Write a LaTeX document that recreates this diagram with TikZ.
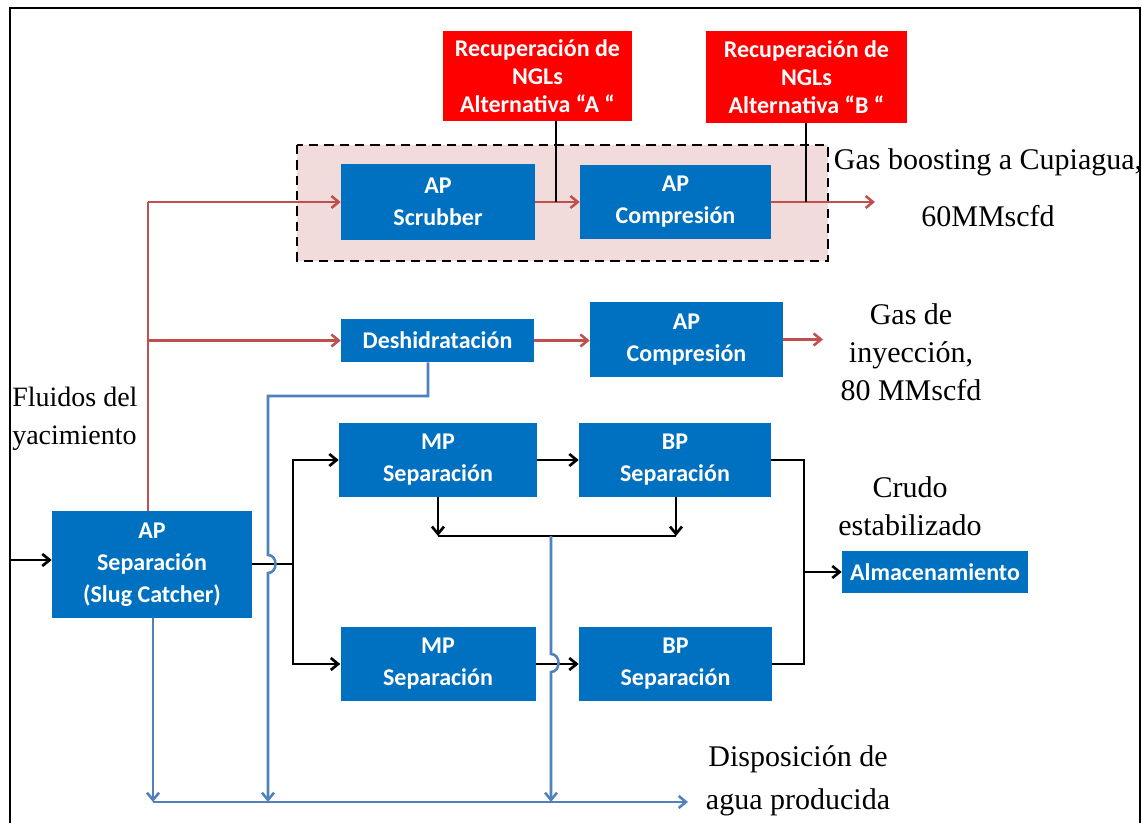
\documentclass[tikz,border=0pt]{standalone}
\usepackage{fontspec}
\setmainfont{Liberation Serif}
\newfontfamily\calib{Carlito}
\usetikzlibrary{arrows.meta}
\definecolor{boxblue}{RGB}{0,112,192}
\definecolor{boxred}{RGB}{255,0,0}
\definecolor{redline}{RGB}{192,80,77}
\definecolor{blueline}{RGB}{79,129,189}
\definecolor{pinkfill}{RGB}{242,220,219}
\begin{document}
\begin{tikzpicture}[x=0.75pt,y=-0.75pt,
  box/.style={fill=boxblue,text=white,font=\calib\bfseries\fontsize{18}{24}\selectfont,align=center,inner sep=0pt},
  rbox/.style={fill=boxred,text=white,font=\calib\bfseries\fontsize{18}{21}\selectfont,align=center,inner sep=0pt},
  lbl/.style={align=center,inner sep=0pt},
  blk/.style={black,line width=2pt},
  rl/.style={redline,line width=1.9pt},
  bl/.style={blueline,line width=1.9pt},
  arr/.style={-{Straight Barb[length=5.5pt,width=9pt]}}
]
\useasboundingbox (0,0) rectangle (1142,823);
\fill[white] (0,0) rectangle (1142,823);
% frame
\draw[line width=1.6pt] (10,823) -- (10,8) -- (1140,8) -- (1140,823);
% dashed group
\draw[dashed,dash pattern=on 7pt off 4.5pt,line width=1.2pt,fill=pinkfill] (297,145) rectangle (828,261);

% boxes
\node[rbox,minimum width=141.75pt,minimum height=67.5pt] (redA) at (537.5,76) {Recuperación de\\NGLs\\Alternativa “A “};
\node[rbox,minimum width=150.75pt,minimum height=69pt] (redB) at (806.5,77) {Recuperación de\\NGLs\\Alternativa “B “};
\node[box,minimum width=145.5pt,minimum height=57pt] (scrub) at (438,202) {AP\\Scrubber};
\node[box,minimum width=143.25pt,minimum height=55.5pt] (compA) at (675.5,202) {AP\\Compresión};
\node[box,minimum width=144.75pt,minimum height=32.25pt] (desh) at (437.5,340.5) {Deshidratación};
\node[box,minimum width=144.75pt,minimum height=56.25pt] (compB) at (686.5,339.5) {AP\\Compresión};
\node[box,minimum width=148.5pt,minimum height=55.5pt] (mp1) at (438,460) {MP\\Separación};
\node[box,minimum width=144pt,minimum height=55.5pt] (bp1) at (675,460) {BP\\Separación};
\node[box,minimum width=146.25pt,minimum height=55.5pt] (mp2) at (438,664) {MP\\Separación};
\node[box,minimum width=144.75pt,minimum height=55.5pt] (bp2) at (675.5,664) {BP\\Separación};
\node[box,minimum width=150pt,minimum height=80.25pt] (slug) at (152,564.5) {AP\\Separación\\(Slug Catcher)};
\node[box,minimum width=139.5pt,minimum height=31.5pt] (alm) at (935,572) {Almacenamiento};

% labels
\node[lbl,anchor=west,align=left,font=\fontsize{21}{28.5}\selectfont] (fluid) at (12,419) {Fluidos del\\yacimiento};
\node[lbl,font=\fontsize{22.5}{42.75}\selectfont] (gb) at (988,188) {Gas boosting a Cupiagua,\\60MMscfd};
\node[lbl,font=\fontsize{22.5}{28.5}\selectfont] (gi) at (911,352) {Gas de\\inyección,\\80 MMscfd};
\node[lbl,font=\fontsize{22.5}{28.5}\selectfont] (crudo) at (910,506) {Crudo\\estabilizado};
\node[lbl,font=\fontsize{22.5}{32.25}\selectfont] (disp) at (798,781) {Disposición de\\agua producida};

% coordinates
\coordinate (in) at (10,560);
\coordinate (rv) at (148,202);
\coordinate (rj) at (148,340.5);
\coordinate (gasout) at (875,202);
\coordinate (injout) at (823,339.5);
\coordinate (ja) at (556,202);
\coordinate (jb) at (806,202);
\coordinate (bj) at (293,564);
\coordinate (lj) at (438,536);
\coordinate (rj2) at (676,536);
\coordinate (cx) at (804,572);
\coordinate (wb) at (153,802);
\coordinate (wend) at (688,802);
\coordinate (dw) at (428,396);
\coordinate (dl) at (268,396);
\coordinate (h1a) at (268,555);
\coordinate (h1b) at (268,573);
\coordinate (d1) at (268,802);
\coordinate (v2) at (551,536);
\coordinate (h2a) at (551,654);
\coordinate (h2b) at (551,672);
\coordinate (d2) at (551,802);

% red gas lines
\draw[rl] (slug.north -| rv) -- (rv);
\draw[rl,arr] (rv) -- (scrub.west);
\draw[rl,arr] (rj) -- (desh.west);
\draw[rl,arr] (scrub.east) -- (compA.west);
\draw[rl,arr] (compA.east) -- (gasout);
\draw[rl,arr] (desh.east) -- (compB.west |- desh.east);
\draw[rl,arr] (compB.east) -- (injout);
% NGL connections
\draw[blk,line width=1.6pt] (redA.south -| ja) -- (ja);
\draw[blk,line width=1.6pt] (redB.south -| jb) -- (jb);

% black liquid lines
\draw[blk,arr] (in) -- (slug.west |- in);
\draw[blk] (slug.east |- bj) -- (bj);
\draw[blk,arr] (bj) |- (mp1.west);
\draw[blk,arr] (bj) |- (mp2.west);
\draw[blk,arr] (mp1.east) -- (bp1.west);
\draw[blk,arr] (mp2.east) -- (bp2.west);
\draw[blk,arr] (mp1.south) -- (lj);
\draw[blk,arr] (bp1.south -| rj2) -- (rj2);
\draw[blk] (lj) -- (rj2);
\draw[blk] (bp1.east) -| (cx) |- (bp2.east);
\draw[blk,arr] (cx) -- (alm.west);

% blue water lines
\draw[bl,arr] (slug.south -| wb) -- (wb);
\draw[bl,arr] (wb) -- (wend);
\draw[bl,arr] (desh.south -| dw) -- (dw) -- (dl) -- (h1a) .. controls +(10,0) and +(10,0) .. (h1b) -- (d1);
\draw[bl,arr] (v2) -- (h2a) .. controls +(10,0) and +(10,0) .. (h2b) -- (d2);
\end{tikzpicture}
\end{document}
